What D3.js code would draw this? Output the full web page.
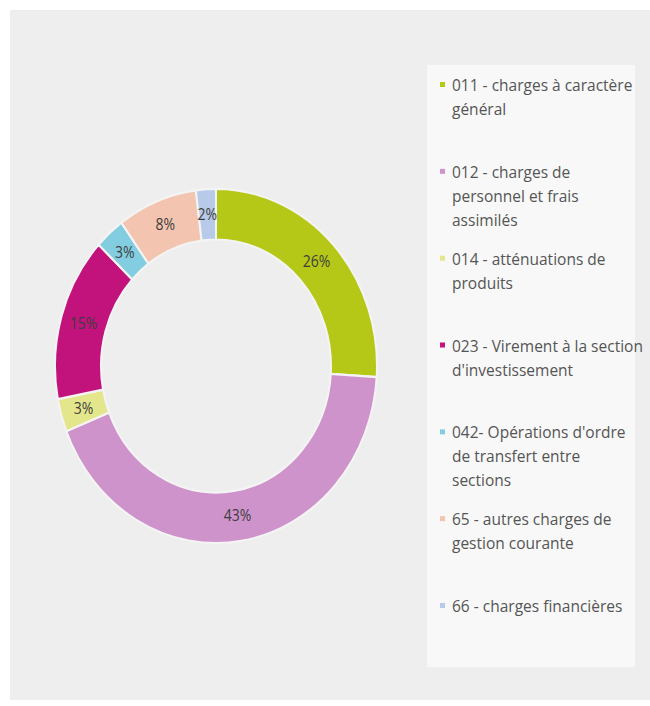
<!DOCTYPE html>
<html>
<head>
<meta charset="utf-8">
<script src="https://cdn.jsdelivr.net/npm/d3@7"></script>
<style>
  html, body { margin: 0; padding: 0; background: #fff; }
  svg { display: block; }
</style>
</head>
<body>
<svg id="chart" width="650" height="706"></svg>
<script>
// chapter codes and their share of the budget (%)
const categories = ['011', '012', '014', '023', '042', '65', '66'];
const shares = [26, 43, 3, 15, 3, 8, 2];
const colors = ['#b6c817', '#cf93cb', '#e4e68c', '#c2137c', '#82cde0', '#f3c4b0', '#b7cbe8'];
const legendLines = [
  ['011 - charges à caractère', 'général'],
  ['012 - charges de', 'personnel et frais', 'assimilés'],
  ['014 - atténuations de', 'produits'],
  ['023 - Virement à la section', "d'investissement"],
  ["042- Opérations d'ordre", 'de transfert entre', 'sections'],
  ['65 - autres charges de', 'gestion courante'],
  ['66 - charges financières']
];

const svg = d3.select('#chart');

svg.append('rect')
  .attr('x', 10).attr('y', 10)
  .attr('width', 640).attr('height', 690)
  .attr('fill', '#eeeeee');

// donut (reference is slightly stretched vertically)
const cx = 216, cy = 366;
const outerR = 161, innerR = 115;

const pie = d3.pie().sort(null).value(d => d.value);
const arc = d3.arc().innerRadius(innerR).outerRadius(outerR);

const data = categories.map((c, i) => ({ code: c, value: shares[i], color: colors[i] }));

const donut = svg.append('g')
  .attr('transform', `translate(${cx},${cy}) scale(1,1.1)`);

donut.selectAll('path')
  .data(pie(data))
  .join('path')
  .attr('d', arc)
  .attr('fill', d => d.data.color)
  .attr('stroke', '#f4f4f4')
  .attr('stroke-width', 2);

donut.selectAll('text')
  .data(pie(data))
  .join('text')
  .attr('transform', d => `translate(${arc.centroid(d)})`)
  .attr('text-anchor', 'middle')
  .attr('dy', '0.35em')
  .attr('font-family', 'Open Sans, sans-serif')
  .attr('font-size', 14)
  .attr('fill', '#3d3d3d')
  .text(d => d.data.value + '%');

// legend
svg.append('rect')
  .attr('x', 427).attr('y', 65)
  .attr('width', 208).attr('height', 602)
  .attr('fill', '#f8f8f8');

const y = d3.scalePoint()
  .domain(categories)
  .range([91, 612]);

const item = svg.append('g')
  .selectAll('g')
  .data(data)
  .join('g')
  .attr('transform', d => `translate(440,${y(d.code)})`);

item.append('rect')
  .attr('x', 0).attr('y', -9)
  .attr('width', 5).attr('height', 5)
  .attr('fill', d => d.color);

item.append('text')
  .attr('font-family', 'Open Sans, sans-serif')
  .attr('font-size', 15.5)
  .attr('fill', '#555')
  .selectAll('tspan')
  .data((d, i) => legendLines[i])
  .join('tspan')
  .attr('x', 12)
  .attr('dy', (d, i) => i === 0 ? 0 : 24)
  .text(d => d);
</script>
</body>
</html>
